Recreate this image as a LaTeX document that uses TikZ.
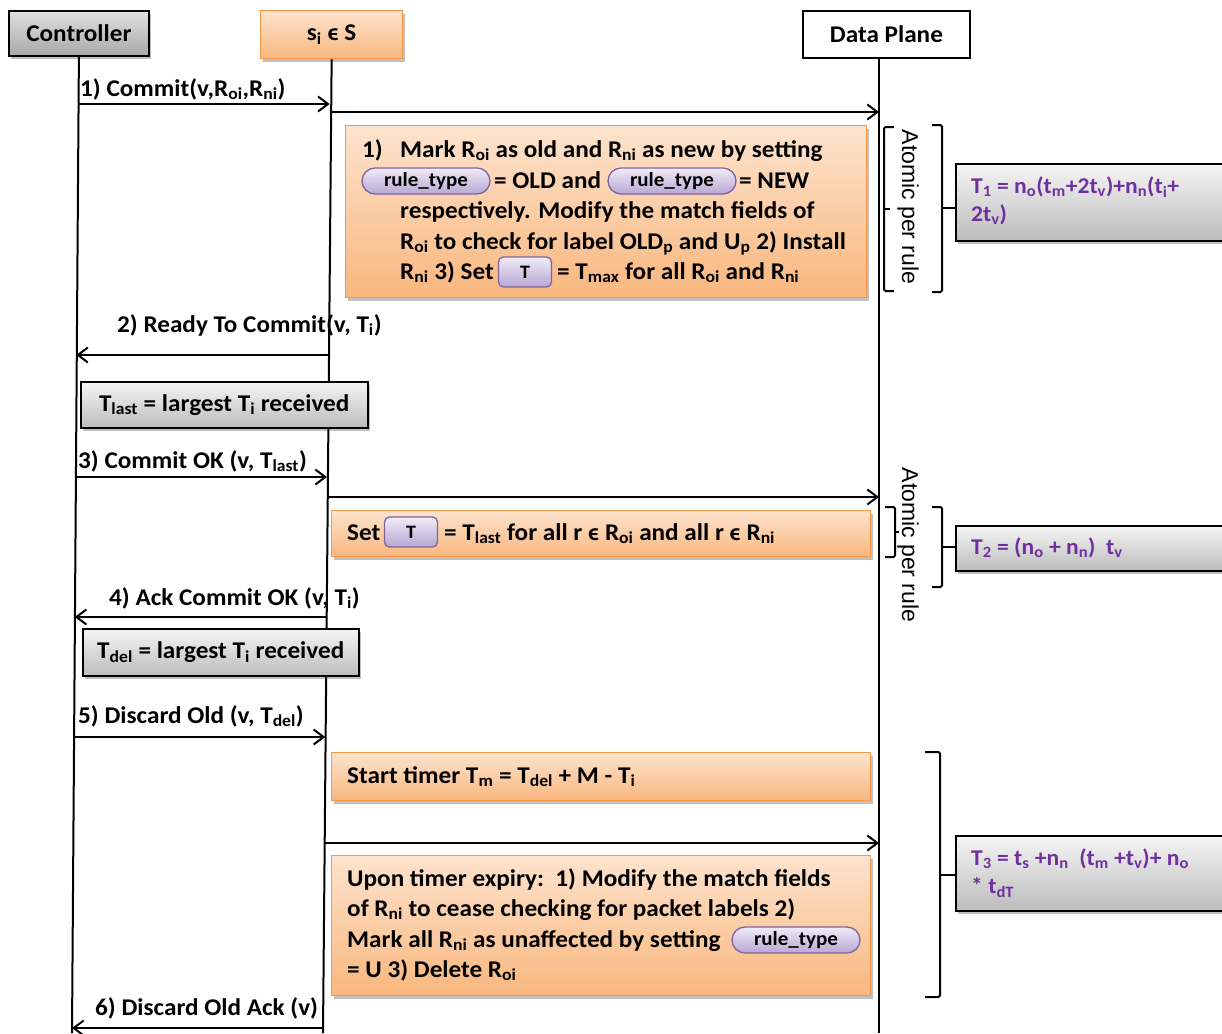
\documentclass[tikz,border=0pt]{standalone}
\usepackage{fontspec}
\setmainfont{Carlito}[FakeStretch=1.05]
\newfontfamily\arialfont{Liberation Sans}
\usetikzlibrary{arrows.meta,shadows,shapes.misc,calc}

\definecolor{orEdge}{HTML}{F79646}
\definecolor{orTop}{HTML}{FDE3CD}
\definecolor{orBot}{HTML}{F9B77E}
\definecolor{grTop}{HTML}{F5F5F5}
\definecolor{grBot}{HTML}{BCBCBC}
\definecolor{ctTop}{HTML}{E0E0E0}
\definecolor{ctBot}{HTML}{A8A8A8}
\definecolor{pillTop}{HTML}{F0ECF6}
\definecolor{pillBot}{HTML}{B8A7D3}
\definecolor{pillEdge}{HTML}{8064A2}
\definecolor{formula}{HTML}{7030A0}

\newcommand\lsub[1]{\textsubscript{#1}}

\tikzset{
  lifeline/.style={line width=2pt},
  msg/.style={line width=2pt,-{Straight Barb[length=10pt,width=15pt]}},
  lbl/.style={anchor=base west,inner sep=0pt,font=\bfseries\fontsize{24}{28}\selectfont},
  boxtext/.style={anchor=base west,inner sep=0pt,font=\bfseries\fontsize{24}{28}\selectfont},
  shadowed/.style={drop shadow={shadow xshift=2pt,shadow yshift=-3pt,opacity=0.35,fill=black!70}},
  orbox/.style={draw=orEdge,line width=1.3pt,top color=orTop,bottom color=orBot,shadowed,
    inner sep=0pt,anchor=north west},
  graybox/.style={draw=black,line width=1.5pt,top color=grTop,bottom color=grBot,shadowed,
    inner sep=0pt,anchor=north west,font=\bfseries\fontsize{24}{28}\selectfont},
  header/.style={draw=black,line width=1.8pt,inner sep=0pt,anchor=north west,
    font=\bfseries\fontsize{24}{28}\selectfont},
  pill/.style={rounded rectangle,draw=pillEdge,line width=1.3pt,top color=pillTop,
    bottom color=pillBot,minimum width=128pt,minimum height=26pt,inner sep=0pt,
    font=\bfseries\fontsize{20}{22}\selectfont},
  tpill/.style={rectangle,rounded corners=5pt,draw=pillEdge,line width=1.3pt,top color=pillTop,
    bottom color=pillBot,minimum width=53pt,minimum height=30pt,inner sep=0pt,
    font=\bfseries\fontsize{19}{20}\selectfont},
  fbox/.style={draw=black,line width=1.5pt,top color=grTop,bottom color=grBot,shadowed,
    inner sep=0pt,anchor=north west},
  ftext/.style={anchor=west,inner sep=0pt,align=left,text=formula,
    font=\bfseries\fontsize{22.5}{28}\selectfont},
  brace/.style={line width=2pt,rounded corners=1.5pt},
  vtext/.style={rotate=-90,inner sep=0pt,font=\arialfont\fontsize{23}{24}\selectfont},
}

\begin{document}
\begin{tikzpicture}[x=1pt,y=-1pt]
\useasboundingbox[fill=white] (0,0) rectangle (1222,1033);

% ---------- participants ----------
\node[header,top color=ctTop,bottom color=ctBot,shadowed,minimum width=140pt,minimum height=45pt]
  (ctl) at (8,10) {Controller};
\node[header,draw=orEdge,line width=1.3pt,top color=orTop,bottom color=orBot,shadowed,
  minimum width=142pt,minimum height=48pt] (sw) at (260,10) {s\lsub{i} ϵ S};
\node[header,fill=white,minimum width=167pt,minimum height=47pt] (dp) at (802,10) {Data Plane};

% ---------- lifelines ----------
\coordinate (ctlBot) at (72,1033);
\coordinate (swBot) at (323,1033);
\coordinate (dpTop) at (879,57);
\coordinate (dpBot) at (879,1033);
\draw[lifeline] (ctl.south) -- (ctlBot);
\draw[lifeline] (sw.south) -- (swBot);
\draw[lifeline] (dpTop) -- (dpBot);

% message end points on the lifelines
\coordinate (c1) at (77.5,104);  \coordinate (s1) at (329.7,104);
\coordinate (s2) at (329.6,112); \coordinate (d2) at (879,112);
\coordinate (s3) at (327.9,355); \coordinate (c3) at (76.2,355);
\coordinate (c4) at (75.4,477);  \coordinate (s4) at (327.0,477);
\coordinate (s5) at (326.9,497); \coordinate (d5) at (879,497);
\coordinate (s6) at (326.2,617); \coordinate (c6) at (74.7,617);
\coordinate (c7) at (73.9,737);  \coordinate (s7) at (325.3,737);
\coordinate (s8) at (324.6,843); \coordinate (d8) at (879,843);
\coordinate (s9) at (323.3,1028);\coordinate (c9) at (72.0,1028);

% ---------- messages ----------
\draw[msg] (c1) -- (s1);
\node[lbl] (l1) at (80,96) {1) Commit(v,R\lsub{oi},R\lsub{ni})};
\draw[msg] (s2) -- (d2);

\draw[msg] (s3) -- (c3);
\node[lbl] (l3) at (117,332) {2) Ready To Commit(v, T\lsub{i})};

\draw[msg] (c4) -- (s4);
\node[lbl] (l4) at (78,468) {3) Commit OK (v, T\lsub{last})};
\draw[msg] (s5) -- (d5);

\draw[msg] (s6) -- (c6);
\node[lbl] (l6) at (109,605) {4) Ack Commit OK (v, T\lsub{i})};

\draw[msg] (c7) -- (s7);
\node[lbl] (l7) at (78,723) {5) Discard Old (v, T\lsub{del})};
\draw[msg] (s8) -- (d8);

\draw[msg] (s9) -- (c9);
\node[lbl] (l9) at (95,1015) {6) Discard Old Ack (v)};

% ---------- controller notes ----------
\node[graybox,minimum width=287pt,minimum height=46pt] (g1) at (80,381)
  {T\lsub{last} = largest T\lsub{i} received};
\node[graybox,minimum width=276pt,minimum height=47pt] (g2) at (82,628)
  {T\lsub{del} = largest T\lsub{i} received};

% ---------- switch actions ----------
\node[orbox,minimum width=521pt,minimum height=172pt] (b1) at (345,125) {};
\node[boxtext] (b1l1) at (362,157) {\makebox[38pt][l]{1)}Mark R\lsub{oi} as old and R\lsub{ni} as new by setting};
\node[pill] (p1) at (426,181) {rule\_type};
\node[boxtext] (b1l2a) at (494,188) {= OLD and};
\node[pill] (p2) at (672,181) {rule\_type};
\node[boxtext] (b1l2b) at (739,188) {= NEW};
\node[boxtext] (b1l3) at (400,218) {respectively. Modify the match fields of};
\node[boxtext] (b1l4) at (400,249) {R\lsub{oi} to check for label OLD\lsub{p} and U\lsub{p} 2) Install};
\node[boxtext] (b1l5a) at (400,279) {R\lsub{ni} 3) Set};
\node[tpill] (t1) at (525,272) {T};
\node[boxtext] (b1l5b) at (557,279) {= T\lsub{max} for all R\lsub{oi} and R\lsub{ni}};

\node[orbox,minimum width=539pt,minimum height=46pt] (b2) at (331,510) {};
\node[boxtext] (b2a) at (347,540) {Set};
\node[tpill] (t2) at (411,532) {T};
\node[boxtext] (b2b) at (444,540) {= T\lsub{last} for all r ϵ R\lsub{oi} and all r ϵ R\lsub{ni}};

\node[orbox,minimum width=539pt,minimum height=48pt] (b3) at (331,752) {};
\node[boxtext] (b3t) at (347,783) {Start timer T\lsub{m} = T\lsub{del} + M - T\lsub{i}};

\node[orbox,minimum width=539pt,minimum height=140pt] (b4) at (331,855) {};
\node[boxtext] (b4l1) at (347,886) {Upon timer expiry:\ \ 1) Modify the match fields};
\node[boxtext] (b4l2) at (347,916) {of R\lsub{ni} to cease checking for packet labels 2)};
\node[boxtext] (b4l3) at (347,947) {Mark all R\lsub{ni} as unaffected by setting};
\node[pill] (p3) at (796,940) {rule\_type};
\node[boxtext] (b4l4) at (347,977) {= U 3) Delete R\lsub{oi}};

% ---------- brackets and timing ----------
\draw[brace] (894,127) -- (884,127) -- (884,291) -- (894,291);
\draw[brace] (884,209) -- (890,209);
\node[vtext] (a1) at (908,207) {Atomic per rule};
\draw[brace] (932,125) -- (942,125) -- (942,292) -- (932,292);
\coordinate (k1) at (942,208);

\draw[brace] (885,507) -- (895,507) -- (895,557) -- (885,557);
\draw[brace] (895,532) -- (899,532);
\node[vtext] (a2) at (908,545) {Atomic per rule};
\draw[brace] (932,507) -- (942,507) -- (942,587) -- (932,587);
\coordinate (k2) at (942,547);

\draw[brace] (925,752) -- (940,752) -- (940,997) -- (925,997);
\coordinate (k3) at (940,875);

\node[fbox,minimum width=290pt,minimum height=77pt] (f1) at (955,163) {};
\node[ftext] (f1t) at (971,201) {T\lsub{1} = n\lsub{o}(t\lsub{m}+2t\lsub{v})+n\lsub{n}(t\lsub{i}+\\2t\lsub{v})};
\node[fbox,minimum width=290pt,minimum height=45pt] (f2) at (955,525) {};
\node[ftext] (f2t) at (971,548) {T\lsub{2} = (n\lsub{o} + n\lsub{n})\ \ t\lsub{v}};
\node[fbox,minimum width=290pt,minimum height=75pt] (f3) at (955,835) {};
\node[ftext] (f3t) at (971,873) {T\lsub{3} = t\lsub{s} +n\lsub{n}\ \ (t\lsub{m} +t\lsub{v})+ n\lsub{o}\\* t\lsub{dT}};

\draw[brace] (k1) -- (f1.west |- k1);
\draw[brace] (k2) -- (f2.west |- k2);
\draw[brace] (k3) -- (f3.west |- k3);
\end{tikzpicture}
\end{document}
